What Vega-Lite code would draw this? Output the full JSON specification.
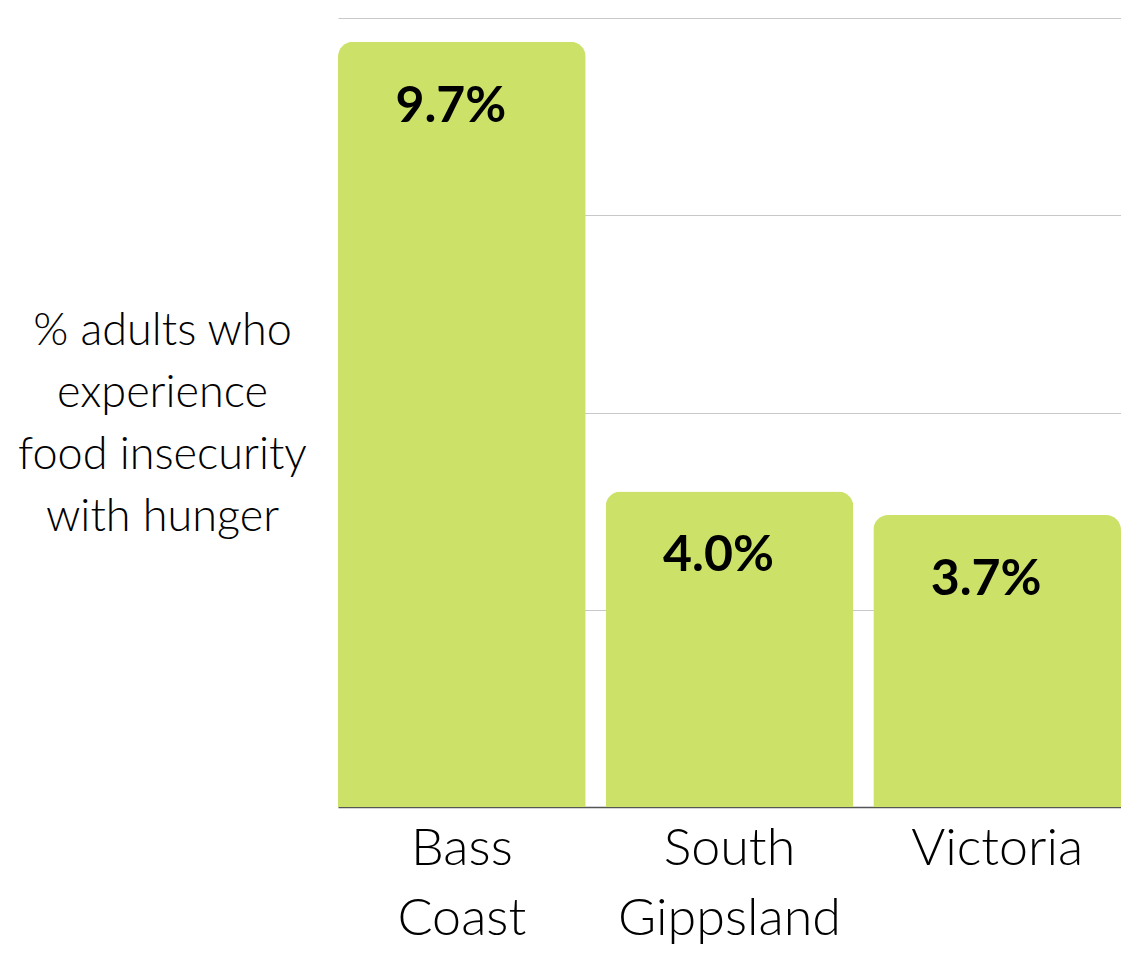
{
  "$schema": "https://vega.github.io/schema/vega-lite/v6.json",
  "autosize": {"type": "none"},
  "padding": {"left": 338, "top": 18, "right": 0, "bottom": 146},
  "width": 783,
  "height": 789,
  "background": "white",
  "config": {"view": {"stroke": null}},
  "data": {"values": [
    {"region": "Bass Coast", "value": 9.7, "label": "9.7%"},
    {"region": "South Gippsland", "value": 4.0, "label": "4.0%"},
    {"region": "Victoria", "value": 3.7, "label": "3.7%"}
  ]},
  "encoding": {
    "x": {"field": "region", "type": "nominal", "sort": null,
      "scale": {"paddingInner": 0.0747, "paddingOuter": 0},
      "axis": {"title": null, "labelAngle": 0, "labelExpr": "split(datum.label, ' ')",
        "labelFont": "Lato", "labelFontWeight": 300, "labelFontSize": 52, "labelColor": "#000",
        "labelLineHeight": 70, "labelPadding": 16, "labelLimit": 0, "ticks": false,
        "domainColor": "#555", "domainWidth": 1.5, "labelBaseline": "top"}},
    "y": {"field": "value", "type": "quantitative",
      "scale": {"domain": [0, 10]},
      "axis": {"values": [2.5, 5, 7.5, 10], "labels": false, "ticks": false, "domain": false,
        "gridColor": "#c8c8c8", "gridWidth": 1,
        "title": ["% adults who", "experience", "food insecurity", "with hunger"],
        "titleAngle": 0, "titleAlign": "center", "titleBaseline": "middle",
        "titleX": -176, "titleY": 312, "titleFont": "Lato", "titleFontWeight": 300,
        "titleFontSize": 45, "titleLineHeight": 62, "titleColor": "#000"}}
  },
  "layer": [
    {"mark": {"type": "bar", "color": "#cbe168", "cornerRadiusTopLeft": 15, "cornerRadiusTopRight": 15}},
    {"mark": {"type": "text", "font": "Lato", "fontWeight": "bold", "fontSize": 50, "color": "#000",
      "baseline": "alphabetic", "dy": 80, "dx": -11},
     "encoding": {"text": {"field": "label"}}}
  ]
}
